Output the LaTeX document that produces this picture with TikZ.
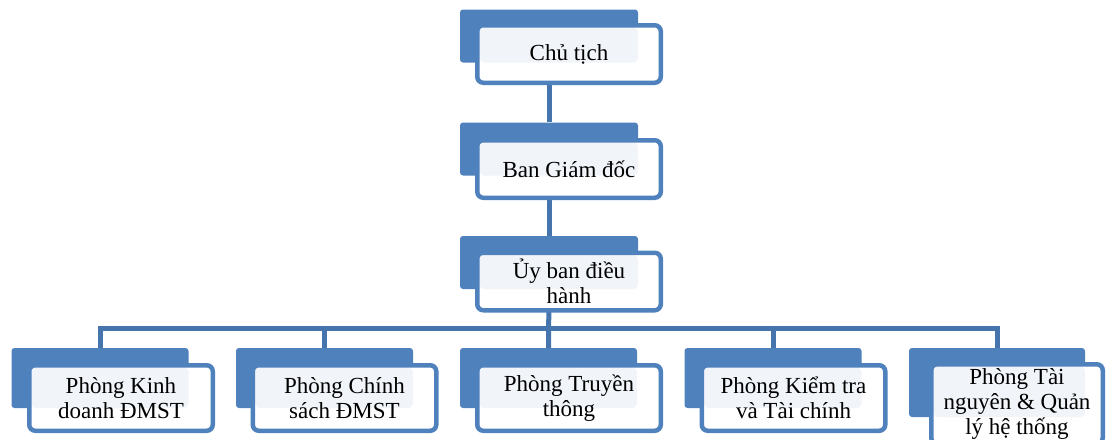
\documentclass[tikz,border=0pt]{standalone}
\usepackage{fontspec}
\setmainfont{Liberation Serif}
\usepackage{tikz}
\usetikzlibrary{calc}

\definecolor{smblue}{HTML}{4F81BD}
\definecolor{smline}{HTML}{4674AD}
\definecolor{tint}{HTML}{F1F4F9}

\tikzset{
  backbox/.style={fill=smblue, rounded corners=3pt, inner sep=0pt,
                  minimum width=178pt, minimum height=53pt},
  frontbox/.style={draw=smblue, line width=4.5pt, fill=white, rounded corners=6pt,
                   inner sep=0pt, align=center, minimum width=183.5pt, minimum height=57.5pt,
                   font=\fontsize{23}{25}\selectfont},
  tinted/.style={path picture={\fill[tint] ([xshift=2pt,yshift=-2pt]path picture bounding box.north west)
                                 rectangle (#1.south east);}},
  link/.style={draw=smline, line width=5pt}
}

\begin{document}
\begin{tikzpicture}[x=1pt,y=-1pt]
             \useasboundingbox (0,0) rectangle (1107,439);
             \begin{scope}
             \clip (0,0) rectangle (1107,439);
             % back boxes
             \node[backbox] (ct-b)   at (549,36) {};
             \node[backbox] (bgd-b)  at (549,149) {};
             \node[backbox] (ubdh-b) at (549,262.5) {};
             \node[backbox, minimum width=177pt, minimum height=60pt] (kd-b) at (100,378) {};
             \node[backbox, minimum width=177pt, minimum height=60pt] (cs-b) at (324.5,378) {};
             \node[backbox, minimum width=177pt, minimum height=60pt] (tt-b) at (548.5,378) {};
             \node[backbox, minimum width=177pt, minimum height=60pt] (kt-b) at (773,378) {};
             \node[backbox, minimum width=176pt, minimum height=69pt] (tn-b) at (997,382.5) {};
             % connectors
             \coordinate (bus) at (549,328);
             \draw[link] (ct-b.south) -- (bgd-b.north);
             \draw[link] (bgd-b.south) -- (ubdh-b.north);
             \draw[link] (ubdh-b.south) -- (tt-b.north);
             \draw[link] (kd-b.north) -- (kd-b.north |- bus) -- (tn-b.north |- bus) -- (tn-b.north);
             \foreach \n in {cs,kt}
               \draw[link] (\n-b.north |- bus) -- (\n-b.north);
             % front boxes
             \node[frontbox, tinted=ct-b]   (ct)   at (569,54)    {Chủ tịch};
             \node[frontbox, tinted=bgd-b]  (bgd)  at (569,169)   {Ban Giám đốc};
             \node[frontbox, tinted=ubdh-b] (ubdh) at (569,281.5) {Ủy ban điều\\hành};
             \node[frontbox, tinted=kd-b, minimum height=65.5pt] (kd) at (121,398)   {Phòng Kinh\\doanh ĐMST};
             \node[frontbox, tinted=cs-b, minimum height=65.5pt] (cs) at (344.5,398) {Phòng Chính\\sách ĐMST};
             \node[frontbox, tinted=tt-b, minimum height=65.5pt] (tt) at (569,398)   {Phòng Truyền\\thông};
             \node[frontbox, tinted=kt-b, minimum height=65.5pt] (kt) at (793.5,398) {Phòng Kiểm tra\\và Tài chính};
             \node[frontbox, tinted=tn-b, minimum width=171.5pt, minimum height=79.5pt] (tn) at (1017,404)
                  {Phòng Tài\\nguyên \& Quản\\lý hệ thống};
             \end{scope}
         \end{tikzpicture}
\end{document}
